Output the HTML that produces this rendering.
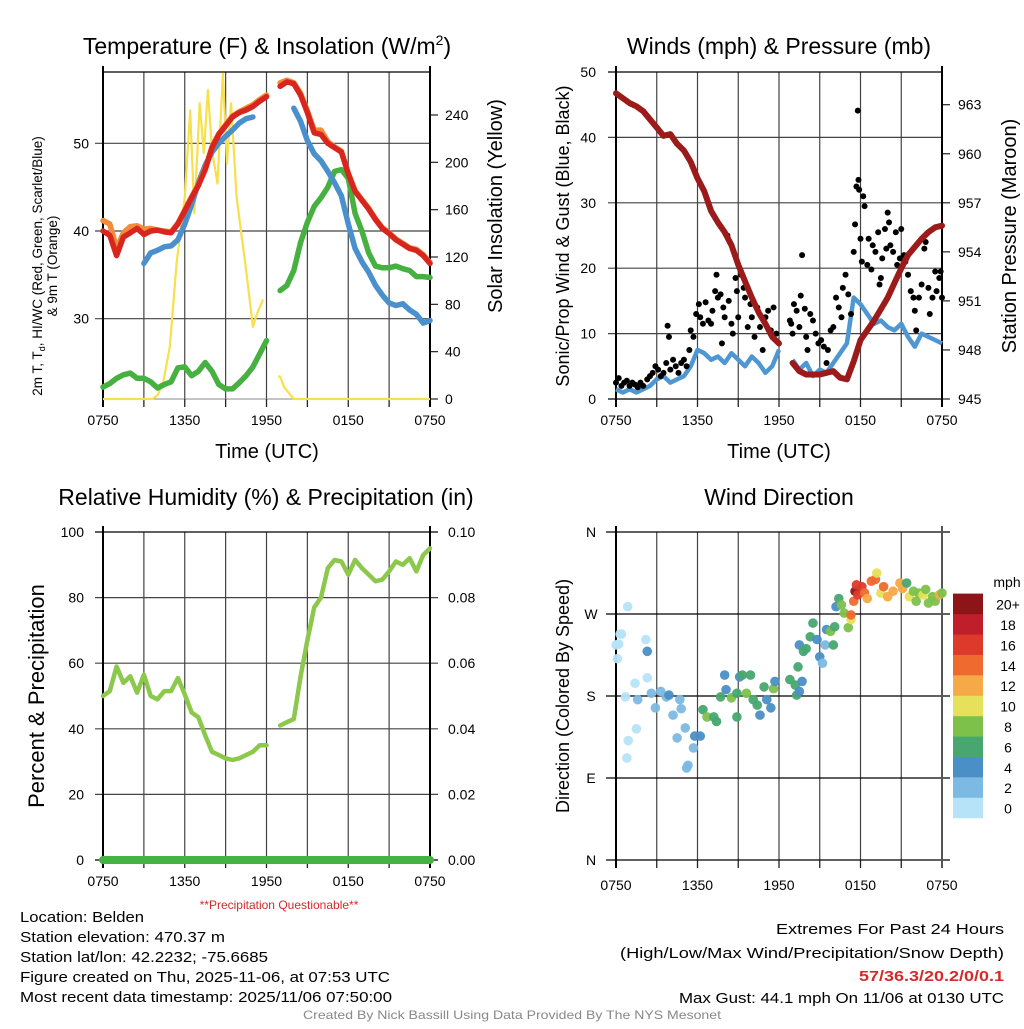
<!DOCTYPE html>
<html><head><meta charset="utf-8">
<style>
html,body{margin:0;padding:0;background:#fff;}
svg text{font-family:"Liberation Sans",sans-serif;}
</style></head>
<body>
<svg id="fig" width="1024" height="1024" viewBox="0 0 1024 1024" xmlns="http://www.w3.org/2000/svg">
<rect width="1024" height="1024" fill="#fff"/>
</svg>
<script>
// ---------- DATA ----------
const hours = [0,0.5,1,1.5,2,2.5,3,3.5,4,4.5,5,5.5,6,6.5,7,7.5,8,8.5,9,9.5,10,10.5,11,11.5,12,12.5,13,13.5,14,14.5,15,15.5,16,16.5,17,17.5,18,18.5,19,19.5,20,20.5,21,21.5,22,22.5,23,23.5,24];
const timeTicks = ["0750","1350","1950","0150","0750"];
const tempRed = [40.0,39.5,37.2,39.3,39.8,40.3,39.6,40.0,40.1,39.9,39.8,40.8,42.3,43.8,45.2,47.0,49.5,51.0,52.0,53.0,53.5,53.8,54.2,54.8,55.3,null,56.5,57.0,56.8,55.5,53.5,51.2,51.0,50.0,49.5,49.0,46.5,44.5,43.5,42.5,41.3,40.3,39.7,39.0,38.5,38.0,37.8,37.2,36.3];
const tempOrange = [41.2,40.8,38.0,39.8,40.5,40.6,40.2,40.3,40.1,40.0,39.9,40.9,42.4,43.9,45.3,47.1,49.6,51.1,52.1,53.1,53.6,54.0,54.4,55.0,55.5,null,56.9,57.2,56.9,55.7,53.7,51.5,51.5,50.2,49.6,49.1,46.6,44.6,43.6,42.6,41.4,40.4,39.8,39.1,38.6,38.1,37.9,37.3,36.4];
const tempBlue = [null,null,null,null,null,null,36.3,37.5,37.8,38.2,38.3,39.0,40.8,43.0,45.5,47.5,49.0,50.0,50.8,51.5,52.3,52.8,53.0,null,null,null,null,null,54.0,52.5,50.3,48.8,48.0,46.8,45.5,44.0,40.8,38.0,36.5,35.3,33.8,32.7,31.8,31.5,31.7,31.0,30.5,29.5,29.8];
const dewGreen = [22.2,22.6,23.2,23.6,23.8,23.2,23.2,22.8,22.1,22.5,22.8,24.4,24.5,23.5,24.0,25.0,24.0,22.5,22.0,22.0,22.7,23.5,24.5,26.0,27.5,null,33.2,33.8,35.5,38.7,41.0,42.8,43.8,45.0,46.8,47.0,46.0,42.0,40.0,37.5,36.0,35.8,35.8,36.0,35.7,35.5,34.8,34.8,34.7];
const solarHours = [0,3.6,4.0,4.4,4.9,5.4,6.0,6.4,6.7,7.1,7.4,7.7,8.0,8.4,8.8,9.1,9.4,9.8,10.5,11.0,11.3,11.75,null,12.85,13.0,13.3,14.0,24];
const solarVals = [0,0,3,13,44,115,171,244,157,250,208,261,210,182,275,199,250,171,109,61,72,84,null,19,19,10,0,0];
const pressure = [963.7,963.4,963.1,962.9,962.6,962.1,961.6,961.1,961.2,960.6,960.2,959.5,958.5,957.7,956.5,955.8,955.2,954.4,953.2,952.2,951.2,950.3,949.6,948.8,948.4,null,947.2,946.7,946.5,946.5,946.5,946.6,946.7,946.3,946.2,947.3,948.6,949.2,949.8,950.5,951.2,952.1,953.0,953.8,954.3,954.8,955.2,955.5,955.6];
const windSonic = [1.5,1.0,1.5,1.0,1.5,2.0,3.0,3.5,2.5,3.0,3.5,5.0,7.5,7.0,6.0,6.5,5.5,7.0,6.0,5.0,6.5,5.5,4.0,5.0,7.5,null,6.0,4.5,5.5,3.5,4.5,4.0,5.5,7.0,8.5,15.5,14.5,13.0,11.5,12.0,11.0,10.5,11.5,9.5,8.0,10.0,9.5,9.0,8.5];
const gustHours = [0,0.2,0.4,0.6,0.8,1.0,1.2,1.4,1.6,1.8,2.0,2.3,2.5,2.7,2.9,3.1,3.3,3.5,3.7,3.8,3.9,4.0,4.2,4.4,4.6,4.8,5.0,5.2,5.4,5.5,5.7,5.9,6.1,6.2,6.4,6.6,6.8,7.0,7.1,7.3,7.4,7.5,7.7,7.8,7.9,8.0,8.2,8.3,8.5,8.6,8.8,8.9,9.0,9.2,9.4,9.5,9.7,9.9,10.0,10.2,10.4,10.6,10.8,11.0,11.2,11.4,11.6,11.8,12.8,12.9,13.0,13.1,13.3,13.5,13.6,13.7,13.9,14.0,14.1,14.3,14.5,14.7,14.9,15.1,15.3,15.5,15.6,15.8,16.0,16.2,16.4,16.6,16.7,16.9,17.1,17.3,17.5,17.6,17.7,17.8,17.85,17.9,18.0,18.1,18.2,18.3,18.5,18.6,18.8,18.9,19.1,19.3,19.4,19.5,19.6,19.8,19.9,20.0,20.1,20.2,20.4,20.6,20.7,20.9,21.0,21.2,21.3,21.5,21.7,21.9,22.0,22.1,22.3,22.5,22.7,22.8,23.0,23.1,23.3,23.5,23.6,23.8,23.9,24.0];
const gustVals = [2.5,3.2,2.0,2.5,2.8,2.0,2.5,2.2,1.8,2.5,2.0,3.0,3.5,4.0,5.0,4.5,3.5,4.0,5.5,11.2,9.5,4.5,6.0,5.0,4.0,5.5,6.0,5.0,7.5,10.5,9.5,13.0,14.5,12.5,11.5,14.8,12.0,11.5,13.5,16.5,19.0,15.5,16.0,8.5,14.0,12.5,25.0,15.0,11.5,10.0,18.5,16.5,12.5,19.0,17.0,15.5,11.0,14.5,12.5,9.5,14.0,11.0,7.5,12.5,13.5,10.5,14.0,10.0,12.0,11.5,10.0,14.5,13.5,11.0,15.8,22.0,13.8,9.5,7.5,13.0,12.0,10.0,8.5,9.0,8.0,5.5,7.5,10.5,11.0,15.5,14.0,12.5,17.0,19.0,16.0,13.0,22.5,26.7,32.5,44.1,33.5,32.0,24.5,21.0,31.0,29.5,20.5,24.5,19.8,23.5,22.5,25.5,17.5,18.5,21.5,26.0,23.0,28.5,27.0,23.5,22.5,25.5,20.5,21.5,26.0,22.0,21.0,19.0,16.5,15.5,13.5,10.5,15.5,17.5,23.0,24.0,17.0,13.0,15.5,19.5,16.5,18.5,19.5,15.5];
const rh = [50,51.5,59,54,56,51,56.5,50,49,51.5,51.5,55.5,50.5,45,43.5,38,33,32,31,30.5,31,32,33,35,35,null,41,42,43,56,67,77,80,89,91.5,91,87,91.5,89,87,85,85.5,88,91,90,92,88,93,95];
const precip = [0,0,0,0,0,0,0,0,0,0,0,0,0,0,0,0,0,0,0,0,0,0,0,0,0,0,0,0,0,0,0,0,0,0,0,0,0,0,0,0,0,0,0,0,0,0,0,0,0];
const dirHours = [0,0.1,0.2,0.3,0.4,0.7,0.86,0.9,0.8,1.4,1.5,1.6,2.2,2.3,2.3,2.6,2.9,3.3,3.7,3.9,4.2,4.7,4.8,4.5,5.1,5.3,5.2,5.7,5.8,6.2,6.4,6.7,7.2,7.4,7.7,8.0,8.1,8.5,8.9,9.1,9.3,8.9,9.6,9.9,10.1,10.4,10.6,10.9,11.1,11.4,11.6,11.7,12.8,13.2,13.3,13.7,13.5,13.4,13.5,13.8,14.0,14.3,14.5,14.8,15.0,15.2,15.4,15.5,15.8,16.0,16.1,16.2,16.4,16.6,16.8,17.1,17.3,17.3,17.5,17.6,17.7,17.8,18.1,18.3,18.5,18.8,19.1,19.2,19.5,19.7,20.0,20.4,20.9,21.1,21.4,21.6,21.9,22.1,22.3,22.6,22.8,23.0,23.3,23.5,23.8,24.0];
const dirVals = [236,221,237,248,248,179,278,131,112,194,144,176,242,229,200,183,167,185,179,181,159,176,166,134,145,104,101,123,136,136,165,157,157,152,179,203,187,178,183,201,203,157,183,203,176,170,159,190,176,167,188,196,198,192,181,196,185,212,236,229,232,245,260,242,223,216,236,253,251,236,256,278,287,280,271,255,264,269,284,295,302,291,300,293,287,306,308,315,293,300,289,295,304,298,304,289,295,284,293,291,297,282,289,284,291,293];
const dirSpeeds = [0,0,1,0,0,1,0,0,0,0,1,2,0,4,1,3,3,3,3,5,3,2,3,2,3,2,2,3,4,5,6,8,6,6,6,5,4,8,6,4,6,6,8,6,6,6,4,6,4,4,8,4,6,6,6,4,4,6,4,6,6,6,6,4,4,2,2,4,8,6,6,4,6,8,8,8,10,14,14,20,16,16,16,14,12,14,14,10,10,14,12,12,12,12,6,10,8,8,8,10,8,8,8,8,12,8];
const dirTicks = ["N","W","S","E","N"];
const speedBins = ["0","2","4","6","8","10","12","14","16","18","20+"];
const binColors = ["#b6e3f8","#7cb9e3","#4a8fc5","#48a670","#7dc14b","#e6e05a","#f5a947","#ef6a2e","#de3a2c","#c01e2a","#8e1517"];

// ---------- HELPERS ----------
const NS = "http://www.w3.org/2000/svg";
const svg = document.getElementById("fig");
function mk(tag, attrs, parent){
  const e = document.createElementNS(NS, tag);
  for (const k in attrs) e.setAttribute(k, attrs[k]);
  (parent||svg).appendChild(e);
  return e;
}
function txt(s, x, y, size, anchor, parent, extra){
  const t = mk("text", Object.assign({x:x, y:y, "font-size":size, "text-anchor":anchor||"middle", fill:"#000"}, extra||{}), parent);
  t.textContent = s;
  return t;
}
function linePath(xs, ys, fx, fy){
  let d = "", pen = false;
  for (let i=0;i<xs.length;i++){
    if (xs[i]===null || ys[i]===null || ys[i]===undefined){ pen=false; continue; }
    d += (pen?"L":"M") + fx(xs[i]).toFixed(1) + "," + fy(ys[i]).toFixed(1);
    pen = true;
  }
  return d;
}
function timeAxis(g, X0, X1, Y1, labelY){
  const sx = h => X0 + h/24*(X1-X0);
  for (let k=1;k<8;k++){
    const x = sx(k*3);
    const l = mk("line",{x1:x,y1:Y1,x2:x,y2:Y1+8,stroke:"#222","stroke-width":1.3},g);
    
    
  }
  timeTicks.forEach((s,i)=>{
    const t = txt(s, sx(i*6), labelY, 14, "middle", g);
    
    
  });
}
function vgrid(g, X0, X1, Y0, Y1){
  for (let k=1;k<8;k++){
    const x = X0 + k/8*(X1-X0);
    const l = mk("line",{x1:x,y1:Y0,x2:x,y2:Y1,stroke:"#444","stroke-width":1.2},g);
    
    
  }
}

// ---------- PANEL 1: Temperature ----------
(function(){
  const X0=103,X1=430,Y0=72,Y1=399;
  const g = mk("g",{});
  
  
  const sx = h => X0 + h/24*(X1-X0);
  const sy = v => 231 - (v-40)*8.77;
  const ss = v => Y1 - v*(284/240);
  const title = txt("", 267, 54, 23, "middle", g);
  title.innerHTML = 'Temperature (F) &amp; Insolation (W/m<tspan dy="-9" font-size="14">2</tspan><tspan dy="9">)</tspan>';
  
  
  vgrid(g,X0,X1,Y0,Y1);
  [50,40,30].forEach(v=>{
    mk("line",{x1:95,y1:sy(v),x2:X1,y2:sy(v),stroke:"#444","stroke-width":1.2},g);
    const t = txt(String(v), 89, sy(v)+5, 14, "end", g);
    
    
  });
  [0,40,80,120,160,200,240].forEach(v=>{
    mk("line",{x1:X1,y1:ss(v),x2:X1+8,y2:ss(v),stroke:"#222","stroke-width":1.2},g);
    const t = txt(String(v), 445, ss(v)+5, 14, "start", g);
    
    
  });
  mk("line",{x1:X0,y1:Y0,x2:X1,y2:Y0,stroke:"#000","stroke-width":1.2},g);
  mk("line",{x1:X0,y1:Y1,x2:X1,y2:Y1,stroke:"#888","stroke-width":1},g);
  mk("line",{x1:X0,y1:Y0-6,x2:X0,y2:Y1+8,stroke:"#000","stroke-width":2},g);
  mk("line",{x1:X1,y1:Y0-6,x2:X1,y2:Y1+8,stroke:"#000","stroke-width":2},g);
  timeAxis(g,X0,X1,Y1,425);
  const sol = mk("path",{d:linePath(solarHours,solarVals,sx,ss),fill:"none",stroke:"#f7e04b","stroke-width":2.2,"stroke-linejoin":"round"},g);
  
  
  const lines = [[dewGreen,"#46b040","dewpoint-line"],[tempBlue,"#4a90cc","wind-chill-line"],[tempOrange,"#f28c3a","9m-temperature-line"],[tempRed,"#d8261f","2m-temperature-line"]];
  lines.forEach(([arr,col,name])=>{
    const p = mk("path",{d:linePath(hours,arr,sx,sy),fill:"none",stroke:col,"stroke-width":5.5,"stroke-linejoin":"round","stroke-linecap":"round"},g);
    
    
  });
  const yl = txt("", 0, 0, 13.5, "middle", g, {transform:"translate(44,266) rotate(-90)"});
  yl.innerHTML = '<tspan x="0" dy="-2">2m T, T<tspan font-size="9" dy="3">d</tspan><tspan dy="-3">, HI/WC (Red, Green, Scarlet/Blue)</tspan></tspan><tspan x="0" dy="15">&amp; 9m T (Orange)</tspan>';
  
  
  const yr = txt("Solar Insolation (Yellow)", 0, 0, 20, "middle", g, {transform:"translate(502,206) rotate(-90)"});
  
  
  const xt = txt("Time (UTC)", 267, 458, 20, "middle", g);
  
  
})();

// ---------- PANEL 2: Winds & Pressure ----------
(function(){
  const X0=616,X1=942,Y0=72,Y1=399;
  const g = mk("g",{});
  
  
  const sx = h => X0 + h/24*(X1-X0);
  const sy = v => Y1 - v/50*(Y1-Y0);
  const sp = v => Y1 - (v-945)*16.35;
  const title = txt("Winds (mph) & Pressure (mb)", 779, 54, 23, "middle", g);
  
  
  vgrid(g,X0,X1,Y0,Y1);
  [0,10,20,30,40,50].forEach(v=>{
    mk("line",{x1:608,y1:sy(v),x2:X1,y2:sy(v),stroke:v===0||v===50?"#000":"#444","stroke-width":1.2},g);
    const t = txt(String(v), 596, sy(v)+5, 14, "end", g);
    
    
  });
  [945,948,951,954,957,960,963].forEach(v=>{
    mk("line",{x1:X1,y1:sp(v),x2:X1+8,y2:sp(v),stroke:"#222","stroke-width":1.2},g);
    const t = txt(String(v), 958, sp(v)+5, 14, "start", g);
    
    
  });
  mk("line",{x1:X0,y1:Y0-6,x2:X0,y2:Y1+8,stroke:"#000","stroke-width":2},g);
  mk("line",{x1:X1,y1:Y0-6,x2:X1,y2:Y1+8,stroke:"#000","stroke-width":2},g);
  timeAxis(g,X0,X1,Y1,425);
  const b = mk("path",{d:linePath(hours,windSonic,sx,sy),fill:"none",stroke:"#4f97d3","stroke-width":4.5,"stroke-linejoin":"round"},g);
  
  
  gustHours.forEach((h,i)=>{
    const c = mk("circle",{cx:sx(h),cy:sy(gustVals[i]),r:3,fill:"#000"},g);
    
    
  });
  const p = mk("path",{d:linePath(hours,pressure,sx,sp),fill:"none",stroke:"#9b1a1a","stroke-width":6,"stroke-linejoin":"round","stroke-linecap":"round"},g);
  
  
  const yl = txt("Sonic/Prop Wind & Gust (Blue, Black)", 0, 0, 18, "middle", g, {transform:"translate(569,236) rotate(-90)"});
  
  
  const yr = txt("Station Pressure (Maroon)", 0, 0, 20, "middle", g, {transform:"translate(1016,236) rotate(-90)"});
  
  
  const xt = txt("Time (UTC)", 779, 458, 20, "middle", g);
  
  
})();

// ---------- PANEL 3: RH & Precip ----------
(function(){
  const X0=103,X1=430,Y0=532,Y1=860;
  const g = mk("g",{});
  
  
  const sx = h => X0 + h/24*(X1-X0);
  const sy = v => Y1 - v/100*(Y1-Y0);
  const sr = v => Y1 - v/0.1*(Y1-Y0);
  const title = txt("Relative Humidity (%) & Precipitation (in)", 266, 505, 23, "middle", g);
  
  
  vgrid(g,X0,X1,Y0,Y1);
  [0,20,40,60,80,100].forEach(v=>{
    mk("line",{x1:95,y1:sy(v),x2:X1+8,y2:sy(v),stroke:v===0||v===100?"#000":"#444","stroke-width":1.2},g);
    const t = txt(String(v), 84, sy(v)+5, 14, "end", g);
    
    
    const r = txt((v/1000).toFixed(2), 448, sy(v)+5, 14, "start", g);
    
    
  });
  mk("line",{x1:X0,y1:Y0-6,x2:X0,y2:Y1+8,stroke:"#000","stroke-width":2},g);
  mk("line",{x1:X1,y1:Y0-6,x2:X1,y2:Y1+8,stroke:"#000","stroke-width":2},g);
  timeAxis(g,X0,X1,Y1,886);
  const pr = mk("path",{d:linePath(hours,precip,sx,sr),fill:"none",stroke:"#45b244","stroke-width":8,"stroke-linecap":"round"},g);
  
  
  const l = mk("path",{d:linePath(hours,rh,sx,sy),fill:"none",stroke:"#8cc84b","stroke-width":4.5,"stroke-linejoin":"round","stroke-linecap":"round"},g);
  
  
  const yl = txt("Percent & Precipitation", 0, 0, 22, "middle", g, {transform:"translate(44,696) rotate(-90)"});
  
  
  const note = txt("**Precipitation Questionable**", 279, 909, 12, "middle", g, {fill:"#d42a2a"});
  
  
})();

// ---------- PANEL 4: Wind Direction ----------
(function(){
  const X0=616,X1=942,Y0=532,Y1=860;
  const g = mk("g",{});
  
  
  const sx = h => X0 + h/24*(X1-X0);
  const sy = v => Y1 - v/360*(Y1-Y0);
  const title = txt("Wind Direction", 779, 505, 23, "middle", g);
  
  
  vgrid(g,X0,X1,Y0,Y1);
  dirTicks.forEach((s,i)=>{
    const deg = 360 - i*90;
    mk("line",{x1:606,y1:sy(deg),x2:950,y2:sy(deg),stroke:"#000","stroke-width":1.2},g);
    const t = txt(s, 591, sy(deg)+5, 14, "middle", g);
    
    
  });
  mk("line",{x1:X0,y1:Y0-6,x2:X0,y2:Y1+8,stroke:"#000","stroke-width":2},g);
  mk("line",{x1:X1,y1:Y0-6,x2:X1,y2:Y1+8,stroke:"#555","stroke-width":2},g);
  timeAxis(g,X0,X1,Y1,890);
  dirHours.forEach((h,i)=>{
    const bin = Math.min(10, Math.floor(dirSpeeds[i]/2));
    const c = mk("circle",{cx:sx(h),cy:sy(dirVals[i]),r:4.8,fill:binColors[bin],opacity:0.95},g);
    
    
  });
  const yl = txt("Direction (Colored By Speed)", 0, 0, 18, "middle", g, {transform:"translate(569,696) rotate(-90)"});
  
  
  const lg = mk("g",{},g);
  
  
  const mph = txt("mph", 1007, 587, 14, "middle", lg);
  
  
  speedBins.forEach((s,i)=>{
    const y = 818 - (i+1)*20.4;
    const r = mk("rect",{x:953,y:y,width:30,height:20.6,fill:binColors[i]},lg);
    
    
    const t = txt(s, 1008, y+16, 14, "middle", lg);
    
    
  });
})();
</script>
<div style="position:absolute;left:0;top:0;width:1024px;height:1024px;pointer-events:none;">
<svg width="1024" height="1024" xmlns="http://www.w3.org/2000/svg">
<g font-family="Liberation Sans, sans-serif" font-size="15" fill="#000">
<text x="20" y="922" textLength="124" lengthAdjust="spacingAndGlyphs">Location: Belden</text>
<text x="20" y="942" textLength="205" lengthAdjust="spacingAndGlyphs">Station elevation: 470.37 m</text>
<text x="20" y="962" textLength="248" lengthAdjust="spacingAndGlyphs">Station lat/lon: 42.2232; -75.6685</text>
<text x="20" y="982" textLength="370" lengthAdjust="spacingAndGlyphs">Figure created on Thu, 2025-11-06, at 07:53 UTC</text>
<text x="20" y="1002" textLength="372" lengthAdjust="spacingAndGlyphs">Most recent data timestamp: 2025/11/06 07:50:00</text>
<text x="1004" y="934" text-anchor="end" textLength="228" lengthAdjust="spacingAndGlyphs">Extremes For Past 24 Hours</text>
<text x="1004" y="958" text-anchor="end" textLength="384" lengthAdjust="spacingAndGlyphs">(High/Low/Max Wind/Precipitation/Snow Depth)</text>
<text x="1004" y="981" text-anchor="end" fill="#d42a2a" font-weight="bold" textLength="145" lengthAdjust="spacingAndGlyphs">57/36.3/20.2/0/0.1</text>
<text x="1004" y="1003" text-anchor="end" textLength="325" lengthAdjust="spacingAndGlyphs">Max Gust: 44.1 mph On 11/06 at 0130 UTC</text>
<text x="512" y="1019" text-anchor="middle" font-size="12" fill="#888" textLength="418" lengthAdjust="spacingAndGlyphs">Created By Nick Bassill Using Data Provided By The NYS Mesonet</text>
</g>
</svg>
</div>
</body></html>
